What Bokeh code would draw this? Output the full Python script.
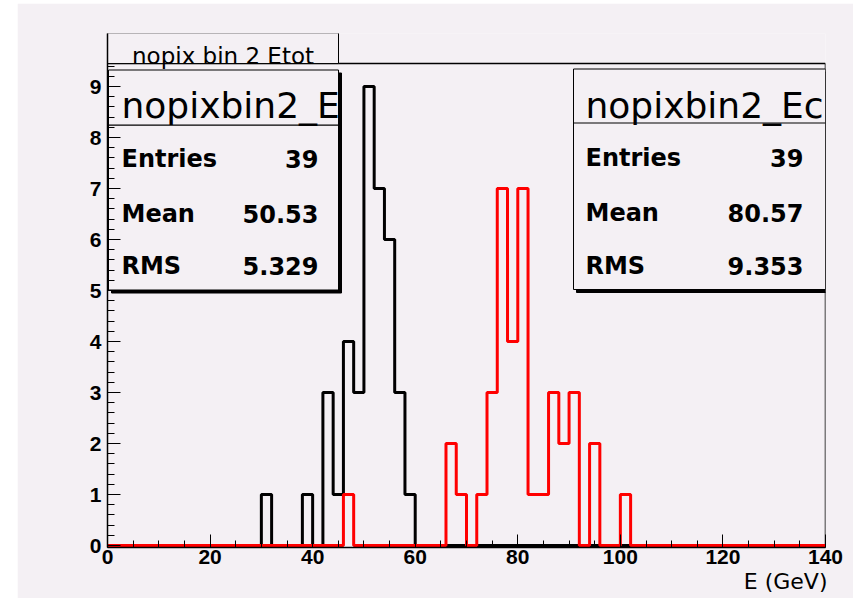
import numpy as np
from bokeh.plotting import figure
from bokeh.models import Range1d, FixedTicker, Title
from bokeh.embed import file_html
from bokeh.resources import INLINE
from bokeh.core.properties import value

# ---------------- data ----------------
bin_width = 2
x_min, x_max = 0, 140
etot_bin_low = [30, 38, 42, 44, 46, 48, 50, 52, 54, 56, 58]
etot_counts = [1, 1, 3, 1, 4, 3, 9, 7, 6, 3, 1]
ecal_bin_low = [46, 66, 68, 72, 74, 76, 78, 80, 82, 84, 86, 88, 90, 94, 100]
ecal_counts = [1, 2, 1, 1, 3, 7, 4, 7, 1, 1, 3, 2, 3, 2, 1]

x_major_ticks = [0, 20, 40, 60, 80, 100, 120, 140]
x_minor_ticks = list(range(0, 141, 5))
y_major_ticks = [0, 1, 2, 3, 4, 5, 6, 7, 8, 9]
y_minor_ticks = [round(0.2 * i, 1) for i in range(0, 48)]
y_frame_top = 9.45

title_text = "nopix bin 2 Etot"
x_label = "E (GeV)"
left_stats_name = "nopixbin2_E"
right_stats_name = "nopixbin2_Ec"
stat_labels = ["Entries", "Mean", "RMS"]
left_stat_values = ["39", "50.53", "5.329"]
right_stat_values = ["39", "80.57", "9.353"]

BG = "#f4f0f4"

# ---------------- helpers (page pixel -> data) ----------------
PX_L, PX_R = 107, 825
PY_0, PY_PER = 545.0, 51.0


def dx(px):
    return (px - PX_L) * (x_max - x_min) / (PX_R - PX_L)


def dy(py):
    return (PY_0 - py) / PY_PER


def hist_steps(bin_low, counts):
    edges = np.arange(x_min, x_max + bin_width, bin_width)
    full = np.zeros(len(edges) - 1)
    for lo, c in zip(bin_low, counts):
        full[int((lo - x_min) // bin_width)] = c
    ys = np.append(full, full[-1])
    return edges, ys


p = figure(
    width=836, height=595, margin=(3, 0, 0, 17),
    x_range=Range1d(x_min, x_max), y_range=Range1d(dy(547), dy(33)),
    output_backend="svg", toolbar_location=None,
    min_border_left=90, min_border_right=28, min_border_top=30, min_border_bottom=51,
    background_fill_color=BG, border_fill_color=BG,
)
p.outline_line_color = None
p.xgrid.grid_line_color = None
p.ygrid.grid_line_color = None

for ax in (p.xaxis[0], p.yaxis[0]):
    ax.axis_line_color = "black"
    ax.axis_line_width = 1.5
    ax.major_tick_in = 13
    ax.major_tick_out = 0
    ax.minor_tick_in = 7
    ax.minor_tick_out = 0
    ax.major_tick_line_color = "black"
    ax.minor_tick_line_color = "black"
    ax.major_label_text_font = "Liberation Sans"
    ax.major_label_text_font_style = "bold"
    ax.major_label_text_font_size = "21px"
    ax.major_label_text_color = "black"

p.xaxis[0].ticker = FixedTicker(ticks=x_major_ticks, minor_ticks=x_minor_ticks)
p.yaxis[0].ticker = FixedTicker(ticks=y_major_ticks, minor_ticks=y_minor_ticks)
p.xaxis[0].major_label_standoff = 2
p.yaxis[0].major_label_standoff = 6

# x axis title, right aligned below the tick labels
p.add_layout(Title(text=x_label, align="right", standoff=0, offset=-2,
                   text_font="DejaVu Sans", text_font_style="normal",
                   text_font_size="22px", text_color="black"), "below")

# frame top and right lines
p.segment(x0=[x_min, x_max], y0=[y_frame_top, 0], x1=[x_max, x_max], y1=[y_frame_top, y_frame_top],
          line_color="black", line_width=1.5)

# title box
p.quad(left=[dx(107)], right=[dx(338)], bottom=[y_frame_top], top=[dy(32.5)],
       fill_color=BG, line_color="black", line_width=1)
p.text(x=[dx(222.5)], y=[dy(55)], text=[title_text], text_font=value("DejaVu Sans"),
       text_font_size="23px", text_align="center", text_baseline="alphabetic", text_color="black")


# stats boxes
def stats_box(l, r, t, b, sep, name, name_x, vals, val_right, base_ys, name_base):
    p.quad(left=[dx(l + 3)], right=[dx(r + 3)], bottom=[dy(b + 3)], top=[dy(t + 3)],
           fill_color="black", line_color="black")
    p.quad(left=[dx(l)], right=[dx(r)], bottom=[dy(b)], top=[dy(t)],
           fill_color=BG, line_color="black", line_width=1)
    p.segment(x0=[dx(l)], y0=[dy(sep)], x1=[dx(r)], y1=[dy(sep)], line_color="black", line_width=1.2)
    p.text(x=[dx(name_x)], y=[dy(name_base)], text=[name], text_font=value("DejaVu Sans"),
           text_font_size="36px", text_align="left", text_baseline="alphabetic", text_color="black")
    p.text(x=[dx(name_x)] * 3, y=[dy(v) for v in base_ys], text=stat_labels,
           text_font=value("DejaVu Sans"), text_font_style="bold", text_font_size="24px",
           text_align="left", text_baseline="alphabetic", text_color="black")
    p.text(x=[dx(val_right)] * 3, y=[dy(v) for v in base_ys], text=vals,
           text_font=value("DejaVu Sans"), text_font_style="bold", text_font_size="24px",
           text_align="right", text_baseline="alphabetic", text_color="black")


stats_box(108, 338, 69.5, 289.5, 124.7, left_stats_name, 121, left_stat_values, 318,
          [158, 213, 265.5], 104.5)
stats_box(573, 825, 68.5, 289, 122.5, right_stats_name, 585, right_stat_values, 803,
          [157.5, 212, 265], 104.5)

# histograms
ex, ey = hist_steps(etot_bin_low, etot_counts)
p.step(ex, ey, mode="after", line_color="black", line_width=3)
rx, ry = hist_steps(ecal_bin_low, ecal_counts)
p.step(rx, ry, mode="after", line_color="#ff0000", line_width=3)

open("out.html", "w").write(file_html(p, INLINE))
